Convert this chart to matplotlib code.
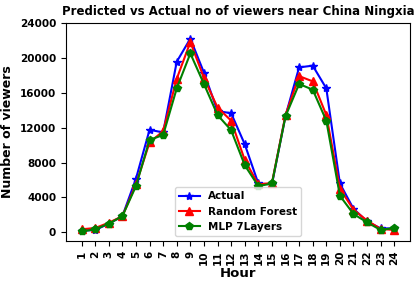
import matplotlib
matplotlib.use("Agg")
import matplotlib.pyplot as plt

hours = list(range(1, 25))
actual = [200, 270, 1000, 1850, 6150, 11750, 11450, 19550, 22200, 18300, 13900, 13650,
          10100, 5600, 5500, 13350, 18900, 19100, 16500, 5600, 2700, 1250, 450, 460]
random_forest = [350, 500, 1100, 1850, 5500, 10300, 11600, 17600, 21800, 17700, 14300, 12800,
                 8300, 5500, 5650, 13450, 17900, 17300, 13450, 5000, 2600, 1350, 400, 270]
mlp_7layers = [100, 350, 1000, 1850, 5300, 10600, 11150, 16500, 20500, 17000, 13450, 11700,
               7700, 5300, 5600, 13300, 17000, 16350, 12800, 4200, 2100, 1150, 270, 500]
yticks = [0, 4000, 8000, 12000, 16000, 20000, 24000]

fig = plt.figure(figsize=(4.2, 2.86), dpi=100)
ax = fig.add_axes([0.157, 0.157, 0.819, 0.763])

ax.plot(hours, actual, color="blue", marker="*", label="Actual")
ax.plot(hours, random_forest, color="red", marker="^", label="Random Forest")
ax.plot(hours, mlp_7layers, color="green", marker="p", label="MLP 7Layers")

ax.set_ylim(-1000, 24000)
ax.set_yticks(yticks)
ax.set_xticks(hours)
ax.set_xticklabels([str(h) for h in hours], rotation=90, fontweight="bold", fontsize=7.5)
ax.set_yticklabels([str(v) for v in yticks], fontweight="bold", fontsize=7.5)
ax.set_xlabel("Hour", fontweight="bold", fontsize=9.5, labelpad=1)
ax.set_ylabel("Number of viewers", fontweight="bold", fontsize=9)
ax.set_title("Predicted vs Actual no of viewers near China Ningxia", fontweight="bold", fontsize=8.5)
ax.legend(loc="lower center", prop={"weight": "bold", "size": 7.5})

fig.savefig("out.png", dpi=100)
